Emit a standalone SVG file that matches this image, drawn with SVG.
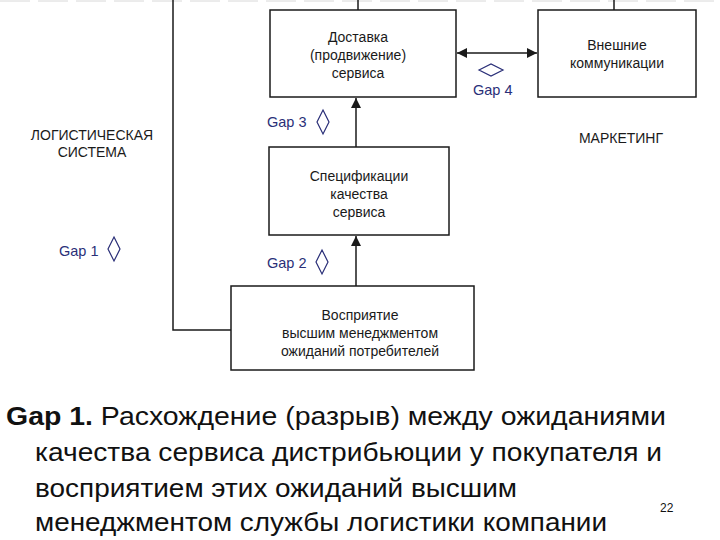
<svg xmlns="http://www.w3.org/2000/svg" width="720" height="540" viewBox="0 0 720 540">
<style>
.box{fill:#fff;stroke:#1a1a1a;stroke-width:1.5}
.ln{fill:none;stroke:#1a1a1a;stroke-width:1.5}
.t{font-family:"Liberation Sans",Arial,sans-serif;font-size:14px;fill:#1a1a1a;text-anchor:middle}
.g{font-family:"Liberation Sans",Arial,sans-serif;font-size:14.5px;fill:#2a2f78}
.d{fill:#fff;stroke:#2a2f78;stroke-width:1.2}
.big{font-family:"Liberation Sans",Arial,sans-serif;font-size:25px;fill:#111}
</style>
<defs>
<marker id="ah" viewBox="0 0 10 10" refX="10" refY="5" markerWidth="10" markerHeight="10" markerUnits="userSpaceOnUse" orient="auto-start-reverse">
<path d="M0,0 L10,5 L0,10 z" fill="#1a1a1a"/>
</marker>
</defs>
<line x1="0" y1="1" x2="720" y2="1" stroke="#d8d8d8" stroke-width="1" stroke-dasharray="30,8"/>
<g id="connectors">
<polyline class="ln" points="173,0 173,330 232,330"/>
<line class="ln" x1="358" y1="0" x2="358" y2="10"/>
<line class="ln" x1="614" y1="0" x2="614" y2="10"/>
<line class="ln" x1="457" y1="53" x2="537" y2="53" marker-start="url(#ah)" marker-end="url(#ah)"/>
<line class="ln" x1="356" y1="147" x2="356" y2="98" marker-end="url(#ah)"/>
<line class="ln" x1="356" y1="286" x2="356" y2="236" marker-end="url(#ah)"/>
</g>
<g id="delivery">
<rect class="box" x="270" y="10" width="186" height="87"/>
<text class="t" x="358" y="42">Доставка</text>
<text class="t" x="358" y="60">(продвижение)</text>
<text class="t" x="358" y="78">сервиса</text>
</g>
<g id="external">
<rect class="box" x="538" y="10" width="158" height="87"/>
<text class="t" x="617" y="50">Внешние</text>
<text class="t" x="617" y="68">коммуникации</text>
</g>
<g id="spec">
<rect class="box" x="269" y="147" width="180" height="88"/>
<text class="t" x="359" y="181">Спецификации</text>
<text class="t" x="359" y="199">качества</text>
<text class="t" x="359" y="217">сервиса</text>
</g>
<g id="perception">
<rect class="box" x="231" y="286" width="243" height="84"/>
<text class="t" x="360" y="320">Восприятие</text>
<text class="t" x="360" y="338">высшим менеджментом</text>
<text class="t" x="360" y="356">ожиданий потребителей</text>
</g>
<g id="gap4">
<polygon class="d" points="479,70 491,64 503,70 491,76"/>
<text class="g" x="473" y="95">Gap 4</text>
</g>
<g id="gap3">
<polygon class="d" points="323,110 329,122 323,134 317,122"/>
<text class="g" x="267" y="127">Gap 3</text>
</g>
<g id="gap2">
<polygon class="d" points="322,250 328,262 322,274 316,262"/>
<text class="g" x="267" y="268">Gap 2</text>
</g>
<g id="gap1">
<polygon class="d" points="114,237 120,249 114,261 108,249"/>
<text class="g" x="59" y="256">Gap 1</text>
</g>
<g id="labels">
<text class="t" x="92" y="140">ЛОГИСТИЧЕСКАЯ</text>
<text class="t" x="92" y="157">СИСТЕМА</text>
<text class="t" x="621" y="143">МАРКЕТИНГ</text>
</g>
<g id="caption">
<text class="big" x="6" y="425" textLength="660" lengthAdjust="spacingAndGlyphs"><tspan font-weight="bold">Gap 1.</tspan> Расхождение (разрыв) между ожиданиями</text>
<text class="big" x="35" y="461" textLength="627" lengthAdjust="spacingAndGlyphs">качества сервиса дистрибьюции у покупателя и</text>
<text class="big" x="35" y="497" textLength="482" lengthAdjust="spacingAndGlyphs">восприятием этих ожиданий высшим</text>
<text class="big" x="35" y="531" textLength="572" lengthAdjust="spacingAndGlyphs">менеджментом службы логистики компании</text>
<text x="660" y="512" style="font-family:'Liberation Sans',Arial,sans-serif;font-size:12px;fill:#111">22</text>
</g>
</svg>
